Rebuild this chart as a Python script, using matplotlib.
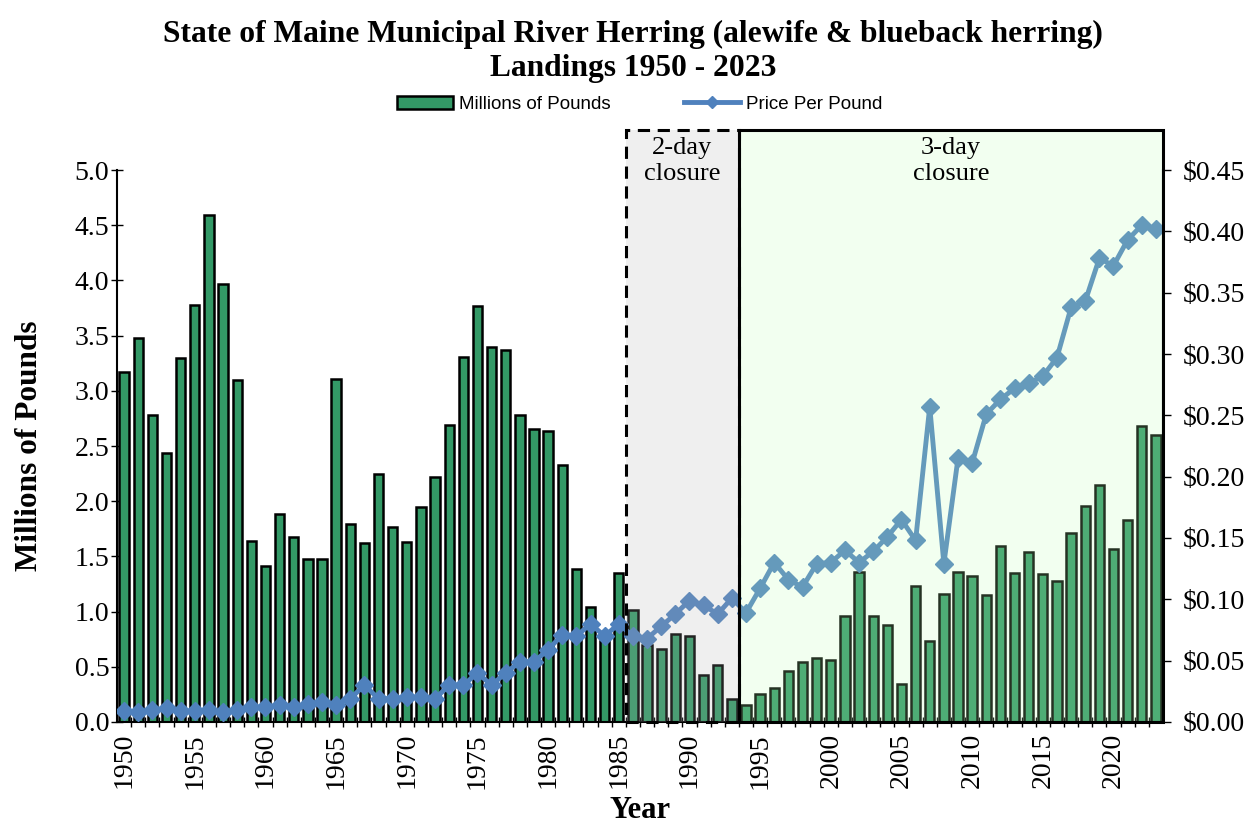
import numpy as np
import matplotlib
matplotlib.use("Agg")
import matplotlib.pyplot as plt
from matplotlib.patches import Rectangle, Patch
from matplotlib.lines import Line2D
from matplotlib.ticker import FuncFormatter, MultipleLocator

# Maine municipal river herring landings, 1950 - 2023
years = list(range(1950, 2024))

landings = [3.17, 3.48, 2.78, 2.44, 3.30, 3.78, 4.59, 3.97, 3.10, 1.64,
            1.41, 1.88, 1.68, 1.48, 1.48, 3.11, 1.79, 1.62, 2.25, 1.77,
            1.63, 1.95, 2.22, 2.69, 3.31, 3.77, 3.40, 3.37, 2.78, 2.65,
            2.64, 2.33, 1.39, 1.04, 0.73, 1.35, 1.01, 0.70, 0.66, 0.80,
            0.78, 0.43, 0.52, 0.21, 0.15, 0.25, 0.31, 0.46, 0.54, 0.58,
            0.56, 0.96, 1.36, 0.96, 0.88, 0.34, 1.23, 0.73, 1.16, 1.36,
            1.32, 1.15, 1.59, 1.35, 1.54, 1.34, 1.28, 1.71, 1.96, 2.15,
            1.57, 1.83, 2.68, 2.60]

price = [0.009, 0.008, 0.010, 0.011, 0.009, 0.009, 0.010, 0.008, 0.010, 0.012,
         0.012, 0.014, 0.0125, 0.015, 0.016, 0.014, 0.019, 0.030, 0.019, 0.019,
         0.020, 0.020, 0.019, 0.030, 0.030, 0.040, 0.030, 0.040, 0.049, 0.049,
         0.059, 0.071, 0.070, 0.080, 0.070, 0.080, 0.070, 0.068, 0.078, 0.088,
         0.099, 0.095, 0.088, 0.101, 0.089, 0.109, 0.130, 0.116, 0.110, 0.129,
         0.130, 0.140, 0.130, 0.139, 0.151, 0.165, 0.148, 0.257, 0.129, 0.215,
         0.211, 0.251, 0.263, 0.272, 0.276, 0.282, 0.297, 0.338, 0.343, 0.378,
         0.372, 0.393, 0.405, 0.402]

# closure periods (first year, last year)
two_day = (1986, 1993)
three_day = (1994, 2023)

serif = "Liberation Serif"
sans = "Liberation Sans"
bar_green = "#339966"
line_blue = "#4F81BD"

fig = plt.figure(figsize=(12.49, 8.27), dpi=100)
ax = fig.add_axes([0.0937, 0.127, 0.8374, 0.6674])
ax2 = ax.twinx()

ax.bar(years, landings, width=0.66, color=bar_green, edgecolor="black",
       linewidth=1.8, zorder=2)
ax2.plot(years, price, color=line_blue, lw=3.5, marker="D", markersize=9,
         zorder=3)

ax.set_xlim(1949.5, 2023.5)
ax.set_ylim(0, 5)
ax2.set_ylim(0, 0.45)

# shaded closure boxes, drawn over the bars so they tint them
top = 5.36
for (y0, y1), fc, ls in [(two_day, (175/255, 175/255, 175/255), (0, (4, 2.5))),
                         (three_day, (190/255, 255/255, 180/255), "-")]:
    x0, x1 = y0 - 0.5, y1 + 0.5
    ax2.add_patch(Rectangle((x0, 0), x1 - x0, top, transform=ax.transData,
                            facecolor=fc, alpha=0.2, edgecolor="none",
                            clip_on=False, zorder=4))
    ax2.add_patch(Rectangle((x0, 0), x1 - x0, top, transform=ax.transData,
                            fill=False, edgecolor="black", lw=2.2, ls=ls,
                            clip_on=False, zorder=5))

for (y0, y1), label in [(two_day, "2-day\nclosure"), (three_day, "3-day\nclosure")]:
    ax2.text((y0 + y1) / 2, 5.30, label, transform=ax.transData,
             ha="center", va="top", fontsize=19, family=serif,
             linespacing=1.25, zorder=6)

# axes styling
for a in (ax, ax2):
    a.spines["top"].set_visible(False)
ax.spines["left"].set_linewidth(1.5)
ax.spines["bottom"].set_linewidth(1.5)
ax2.spines["right"].set_linewidth(1.5)
ax2.spines["left"].set_visible(False)
ax2.spines["bottom"].set_visible(False)

ax.set_xticks(list(range(1950, 2024, 5)))
ax.set_xticks([y + 0.5 for y in years[:-1]], minor=True)
ax.tick_params(axis="x", which="major", length=0, pad=8)
ax.tick_params(axis="x", which="minor", length=7, width=1, direction="inout")
for lbl in ax.get_xticklabels():
    lbl.set_rotation(90)

ax.yaxis.set_major_locator(MultipleLocator(0.5))
ax.yaxis.set_major_formatter(FuncFormatter(lambda v, p: f"{v:.1f}"))
ax.tick_params(axis="y", length=9, width=1, direction="inout", pad=1)
ax2.yaxis.set_major_locator(MultipleLocator(0.05))
ax2.yaxis.set_major_formatter(FuncFormatter(lambda v, p: f"${v:.2f}"))
ax2.tick_params(axis="y", length=6, width=1, direction="out", pad=8)

for lbl in ax.get_xticklabels() + ax.get_yticklabels() + ax2.get_yticklabels():
    lbl.set_fontfamily(serif)
    lbl.set_fontsize(20)

ax.set_ylabel("Millions of Pounds", family=serif, fontsize=22.5,
              fontweight="bold", labelpad=22)
ax.set_xlabel("Year", family=serif, fontsize=22, fontweight="bold", labelpad=5)

fig.text(0.507, 0.938, "State of Maine Municipal River Herring (alewife & blueback herring)\nLandings 1950 - 2023",
         ha="center", va="center", family=serif, fontsize=22.7,
         fontweight="bold", linespacing=1.2)

handles = [Patch(facecolor=bar_green, edgecolor="black", lw=1.8),
           Line2D([], [], color=line_blue, lw=3.5, marker="D", markersize=6)]
fig.legend(handles, ["Millions of Pounds", "Price Per Pound"], ncol=2,
           loc="center", bbox_to_anchor=(0.512, 0.874), frameon=False,
           prop={"family": sans, "size": 13.5}, columnspacing=3.9,
           handlelength=3.0, handletextpad=0.3)

fig.savefig("out.png", dpi=100)
